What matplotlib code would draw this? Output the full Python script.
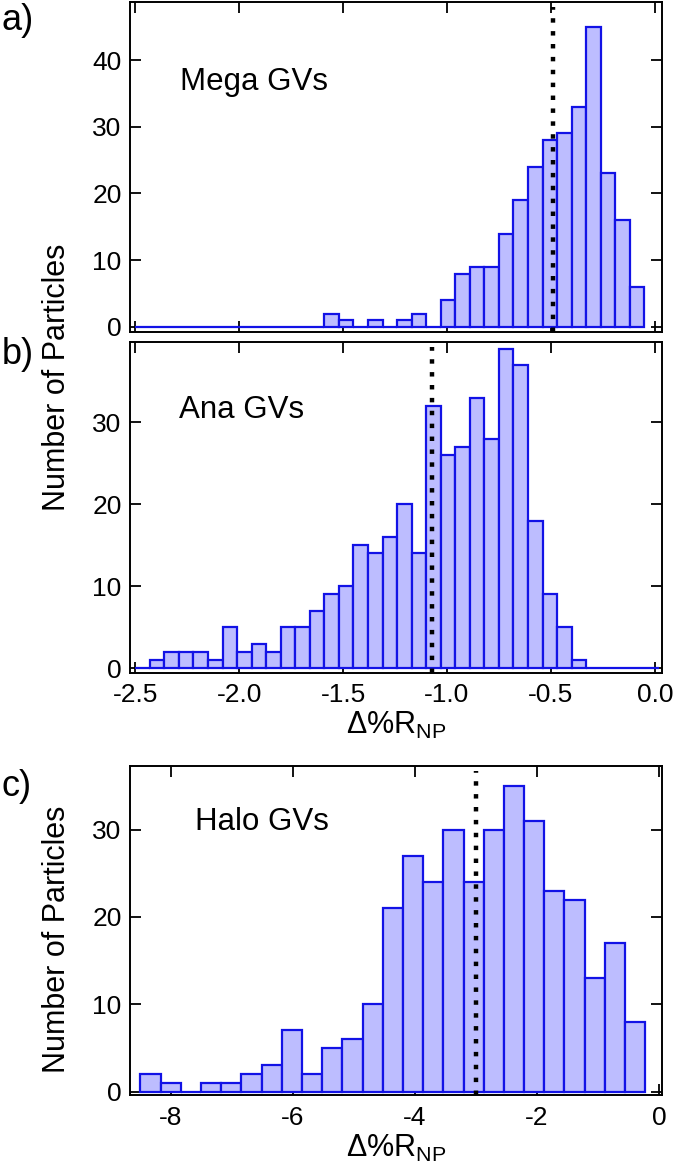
import numpy as np
import matplotlib.pyplot as plt

plt.rcParams['font.family'] = ['Liberation Sans', 'DejaVu Sans']
plt.rcParams['axes.unicode_minus'] = False
plt.rcParams['mathtext.default'] = 'regular'

# histogram data (bin start, bin width, counts)
mega_start = -2.5
mega_width = 0.07
mega_counts = [0, 0, 0, 0, 0, 0, 0, 0, 0, 0, 0, 0, 0,
               2, 1, 0, 1, 0, 1, 2, 0,
               4, 8, 9, 9, 14, 19, 24, 28, 29, 33, 45, 23, 16, 6]
mega_mean = -0.49

ana_start = -2.5
ana_width = 0.07
ana_counts = [0, 1, 2, 2, 2, 1, 5, 2, 3, 2, 5, 5, 7, 9, 10, 15, 14, 16, 20, 14,
              32, 26, 27, 33, 28, 39, 37, 18, 9, 5, 1, 0, 0, 0, 0, 0]
ana_mean = -1.07

halo_start = -8.5
halo_width = 0.331
halo_counts = [2, 1, 0, 1, 1, 2, 3, 7, 2, 5, 6, 10, 21, 27, 24, 30, 24, 30,
               35, 31, 23, 22, 13, 17, 8]
halo_mean = -3.0

fill = '#bdbdff'
edge = '#1212e6'
tick_fs = 19
label_fs = 22


def hist_panel(ax, start, width, counts, mean, name, name_pos):
    lefts = start + width * np.arange(len(counts))
    ax.bar(lefts, counts, width=width, align='edge', color=fill,
           edgecolor=edge, linewidth=1.6, zorder=2)
    ax.axvline(mean, ymax=0.985, color='black', linewidth=3.2,
               linestyle=(0, (1.0, 1.9)), zorder=3)
    ax.text(name_pos[0], name_pos[1], name, transform=ax.transAxes,
            fontsize=22.5, ha='left', va='center')
    ax.tick_params(direction='in', top=True, right=True, length=8, width=1.3,
                   labelsize=tick_fs, pad=6)
    for s in ax.spines.values():
        s.set_linewidth(1.4)


fig = plt.figure(figsize=(6.73, 11.68), dpi=100)
ax1 = fig.add_axes([0.1932, 0.7158, 0.7905, 0.2825])
ax2 = fig.add_axes([0.1932, 0.4238, 0.7905, 0.2834])
ax3 = fig.add_axes([0.1932, 0.0625, 0.7905, 0.2817])

hist_panel(ax1, mega_start, mega_width, mega_counts, mega_mean, 'Mega GVs', (0.094, 0.758))
ax1.set_xlim(-2.525, 0.035)
ax1.set_ylim(-0.75, 48.7)
ax1.set_yticks([0, 10, 20, 30, 40])
ax1.set_xticks([-2.5, -2.0, -1.5, -1.0, -0.5, 0.0])
ax1.tick_params(labelbottom=False)

hist_panel(ax2, ana_start, ana_width, ana_counts, ana_mean, 'Ana GVs', (0.092, 0.795))
ax2.set_xlim(-2.525, 0.035)
ax2.set_ylim(-0.6, 39.8)
ax2.set_yticks([0, 10, 20, 30])
ax2.set_xticks([-2.5, -2.0, -1.5, -1.0, -0.5, 0.0])
ax2.set_xticklabels(['-2.5', '-2.0', '-1.5', '-1.0', '-0.5', '0.0'])
ax2.tick_params(axis='x', pad=7)
ax2.set_xlabel('Δ%R$_{NP}$', fontsize=label_fs, labelpad=2)

hist_panel(ax3, halo_start, halo_width, halo_counts, halo_mean, 'Halo GVs', (0.122, 0.83))
ax3.set_xlim(-8.67, 0.05)
ax3.set_ylim(-0.4, 37.3)
ax3.set_yticks([0, 10, 20, 30])
ax3.set_xticks([-8, -6, -4, -2, 0])
ax3.tick_params(axis='x', pad=8)
ax3.set_xlabel('Δ%R$_{NP}$', fontsize=label_fs, labelpad=2)

fig.text(0.085, 1 - 377 / 1168, 'Number of Particles', rotation=90,
         fontsize=label_fs, ha='center', va='center')
fig.text(0.085, 1 - 939 / 1168, 'Number of Particles', rotation=90,
         fontsize=label_fs, ha='center', va='center')

fig.text(0.002, 1 - 20 / 1168, 'a)', fontsize=26, ha='left', va='center')
fig.text(0.002, 1 - 355 / 1168, 'b)', fontsize=26, ha='left', va='center')
fig.text(0.002, 1 - 786 / 1168, 'c)', fontsize=26, ha='left', va='center')

fig.savefig('out.png', dpi=100)
